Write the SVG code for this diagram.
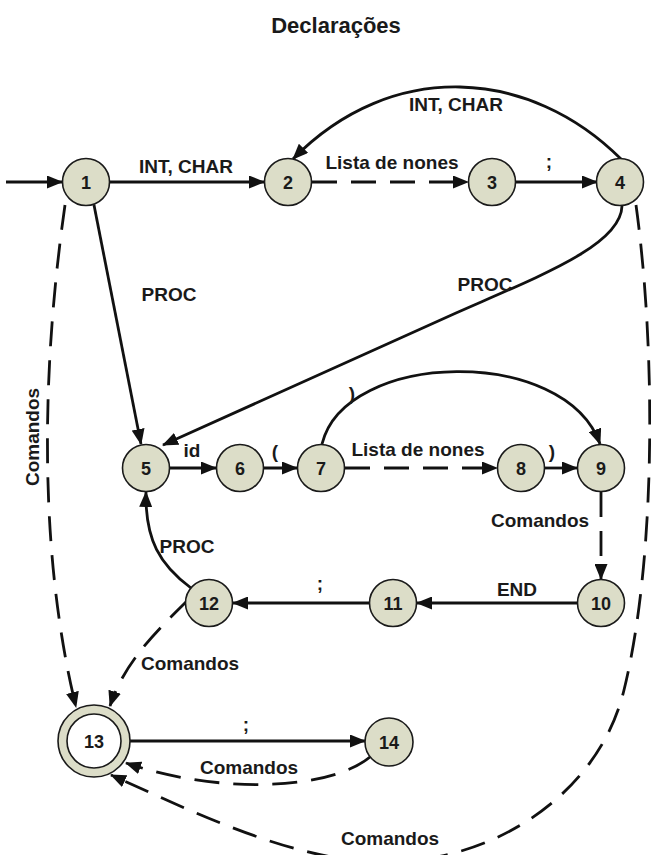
<svg xmlns="http://www.w3.org/2000/svg" width="651" height="855" viewBox="0 0 651 855">
  <style>
    .node { fill: #dcddc8; stroke: #1a1a1a; stroke-width: 1.6; }
    .inner { fill: #ffffff; stroke: #1a1a1a; stroke-width: 1.6; }
    .num { font-family: "Liberation Sans", Arial, sans-serif; font-size: 18px; font-weight: bold; fill: #1a1a1a; text-anchor: middle; }
    .lbl { font-family: "Liberation Sans", Arial, sans-serif; font-size: 19px; font-weight: bold; fill: #1a1a1a; text-anchor: middle; }
    .title { font-family: "Liberation Sans", Arial, sans-serif; font-size: 22px; font-weight: bold; fill: #1a1a1a; text-anchor: middle; }
    .edge { fill: none; stroke: #111; stroke-width: 2.8; marker-end: url(#ah); }
    .dash { stroke-dasharray: 25 14; }
  </style>
  <defs>
    <marker id="ah" viewBox="0 0 16 13" refX="15" refY="6.5" markerWidth="16" markerHeight="13" markerUnits="userSpaceOnUse" orient="auto">
      <path d="M0,0 L16,6.5 L0,13 z" fill="#111"/>
    </marker>
  </defs>

  <text class="title" x="336" y="33">Declarações</text>

  <!-- transitions -->
  <g id="connectors">
    <path class="edge" d="M6,182 L62,182"/>
    <path class="edge" d="M110,182 L264,182"/>
    <path class="edge dash" d="M312,182 L468,182"/>
    <path class="edge" d="M516,182 L597,182"/>
    <path class="edge" d="M621,159 C530,68 392,58 293,159"/>
    <path class="edge" d="M94,205 L141,444"/>
    <path class="edge" d="M622,206 C621,245 542,275 456,313 L163,445"/>
    <path class="edge dash" d="M65,205 C40,380 40,560 76,707"/>
    <path class="edge dash" d="M636,205 C656,350 656,560 624,690 C600,790 500,860 390,862 C300,864 200,815 111,775"/>
    <path class="edge" d="M170,468 L216,468"/>
    <path class="edge" d="M264,468 L297,468"/>
    <path class="edge dash" d="M345,468 L497,468"/>
    <path class="edge" d="M545,468 L577,468"/>
    <path class="edge" d="M322,444 C345,350 565,345 600,444"/>
    <path class="edge dash" d="M601,492 L601,579"/>
    <path class="edge" d="M577,603 L417,603"/>
    <path class="edge" d="M369,603 L233,603"/>
    <path class="edge" d="M191,588 C160,565 145,540 146,492"/>
    <path class="edge dash" d="M188,600 C160,628 125,660 110,706"/>
    <path class="edge" d="M130,741 L365,741"/>
    <path class="edge dash" d="M370,757 C330,790 220,795 126,763"/>
  </g>

  <!-- transition labels -->
  <g id="labels">
    <text class="lbl" x="186" y="173">INT, CHAR</text>
    <text class="lbl" x="392" y="169">Lista de nones</text>
    <text class="lbl" x="549" y="168">;</text>
    <text class="lbl" x="456" y="111">INT, CHAR</text>
    <text class="lbl" x="169" y="301">PROC</text>
    <text class="lbl" x="485" y="291">PROC</text>
    <text class="lbl" x="39" y="437" transform="rotate(-90 39 437)">Comandos</text>
    <text class="lbl" x="352" y="400">)</text>
    <text class="lbl" x="192" y="457">id</text>
    <text class="lbl" x="275" y="458">(</text>
    <text class="lbl" x="418" y="456">Lista de nones</text>
    <text class="lbl" x="552" y="458">)</text>
    <text class="lbl" x="540" y="527">Comandos</text>
    <text class="lbl" x="187" y="553">PROC</text>
    <text class="lbl" x="320" y="590">;</text>
    <text class="lbl" x="517" y="596">END</text>
    <text class="lbl" x="190" y="670">Comandos</text>
    <text class="lbl" x="246" y="731">;</text>
    <text class="lbl" x="249" y="774">Comandos</text>
    <text class="lbl" x="390" y="845">Comandos</text>
  </g>

  <!-- states -->
  <g id="s1"><circle class="node" cx="86" cy="182" r="23.5"/><text class="num" x="86" y="189">1</text></g>
  <g id="s2"><circle class="node" cx="288" cy="182" r="23.5"/><text class="num" x="288" y="189">2</text></g>
  <g id="s3"><circle class="node" cx="492" cy="182" r="23.5"/><text class="num" x="492" y="189">3</text></g>
  <g id="s4"><circle class="node" cx="620" cy="182" r="23.5"/><text class="num" x="620" y="189">4</text></g>
  <g id="s5"><circle class="node" cx="146" cy="468" r="23.5"/><text class="num" x="146" y="475">5</text></g>
  <g id="s6"><circle class="node" cx="240" cy="468" r="23.5"/><text class="num" x="240" y="475">6</text></g>
  <g id="s7"><circle class="node" cx="321" cy="468" r="23.5"/><text class="num" x="321" y="475">7</text></g>
  <g id="s8"><circle class="node" cx="521" cy="468" r="23.5"/><text class="num" x="521" y="475">8</text></g>
  <g id="s9"><circle class="node" cx="601" cy="468" r="23.5"/><text class="num" x="601" y="475">9</text></g>
  <g id="s10"><circle class="node" cx="601" cy="603" r="23.5"/><text class="num" x="601" y="610">10</text></g>
  <g id="s11"><circle class="node" cx="393" cy="603" r="23.5"/><text class="num" x="393" y="610">11</text></g>
  <g id="s12"><circle class="node" cx="209" cy="603" r="23.5"/><text class="num" x="209" y="610">12</text></g>
  <g id="s13"><circle class="node" cx="94" cy="741" r="36"/><circle class="inner" cx="94" cy="741" r="27"/><text class="num" x="94" y="748">13</text></g>
  <g id="s14"><circle class="node" cx="389" cy="742" r="24"/><text class="num" x="389" y="749">14</text></g>
</svg>
